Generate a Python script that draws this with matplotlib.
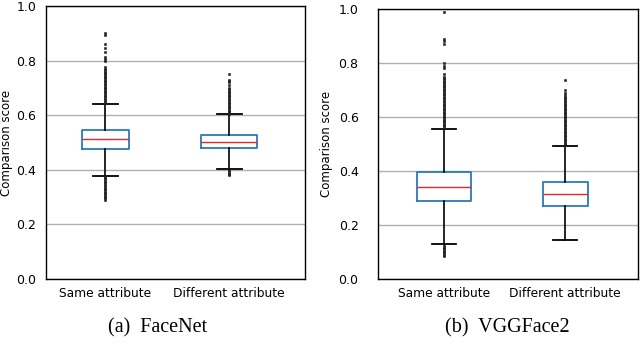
import matplotlib
matplotlib.use("Agg")
from matplotlib import pyplot as plt

labels = ["Same attribute", "Different attribute"]

# FaceNet box statistics
fn_med = [0.512, 0.503]
fn_q1 = [0.477, 0.479]
fn_q3 = [0.546, 0.527]
fn_lo = [0.378, 0.403]
fn_hi = [0.642, 0.603]
fn_fliers = [
    [0.645, 0.65, 0.655, 0.66, 0.665, 0.67, 0.675, 0.68, 0.685, 0.69, 0.695, 0.70,
     0.705, 0.71, 0.715, 0.72, 0.725, 0.73, 0.735, 0.74, 0.745, 0.75, 0.755, 0.76,
     0.765, 0.77, 0.775, 0.80, 0.805, 0.815, 0.83, 0.845, 0.86, 0.895, 0.90,
     0.375, 0.37, 0.365, 0.36, 0.355, 0.35, 0.345, 0.34, 0.335, 0.33, 0.325, 0.32,
     0.315, 0.31, 0.305, 0.30, 0.295, 0.29],
    [0.605, 0.61, 0.615, 0.62, 0.625, 0.63, 0.635, 0.64, 0.645, 0.65, 0.655, 0.66,
     0.665, 0.67, 0.675, 0.68, 0.685, 0.69, 0.695, 0.70, 0.71, 0.72, 0.725, 0.73,
     0.75, 0.40, 0.395, 0.39, 0.385, 0.38],
]

# VGGFace2 box statistics
vg_med = [0.340, 0.315]
vg_q1 = [0.289, 0.270]
vg_q3 = [0.396, 0.360]
vg_lo = [0.130, 0.144]
vg_hi = [0.557, 0.494]
vg_fliers = [
    [0.56, 0.565, 0.57, 0.575, 0.58, 0.585, 0.59, 0.595, 0.60, 0.605, 0.61, 0.615,
     0.62, 0.625, 0.63, 0.635, 0.64, 0.645, 0.65, 0.655, 0.66, 0.665, 0.67, 0.675,
     0.68, 0.685, 0.69, 0.695, 0.70, 0.705, 0.71, 0.715, 0.72, 0.725, 0.73, 0.735,
     0.74, 0.745, 0.75, 0.76, 0.78, 0.79, 0.80, 0.87, 0.88, 0.89, 0.99,
     0.125, 0.12, 0.115, 0.11, 0.105, 0.10, 0.095, 0.09, 0.085],
    [0.495, 0.50, 0.505, 0.51, 0.515, 0.52, 0.525, 0.53, 0.535, 0.54, 0.545, 0.55,
     0.555, 0.56, 0.565, 0.57, 0.575, 0.58, 0.585, 0.59, 0.595, 0.60, 0.605, 0.61,
     0.615, 0.62, 0.625, 0.63, 0.635, 0.64, 0.645, 0.65, 0.655, 0.66, 0.665, 0.67,
     0.675, 0.68, 0.69, 0.70, 0.737],
]


def make_stats(med, q1, q3, lo, hi, fliers):
    return [dict(med=med[i], q1=q1[i], q3=q3[i], whislo=lo[i], whishi=hi[i],
                 fliers=fliers[i], label=labels[i]) for i in range(len(labels))]


def draw(ax, stats, widths, xlim, ypad):
    ax.bxp(stats, positions=[1, 2], widths=widths, capwidths=0.2,
           boxprops=dict(color="#2a7ab9", linewidth=1.3),
           medianprops=dict(color="#e8262a", linewidth=1.0),
           whiskerprops=dict(color="black", linewidth=1.2),
           capprops=dict(color="black", linewidth=1.3),
           flierprops=dict(marker="s", markersize=2.0, markerfacecolor="#222222",
                           markeredgecolor="#222222", markeredgewidth=0.4))
    ax.set_xlim(*xlim)
    ax.set_ylim(0, 1.0)
    ax.set_yticks([0.0, 0.2, 0.4, 0.6, 0.8, 1.0])
    ax.set_yticklabels(["0.0", "0.2", "0.4", "0.6", "0.8", "1.0"])
    ax.yaxis.grid(True, color="#b0b0b0", linewidth=1.0)
    ax.set_axisbelow(True)
    ax.tick_params(axis="y", length=0, pad=ypad, labelsize=9)
    ax.tick_params(axis="x", length=0, pad=6, labelsize=8.8)
    ax.set_ylabel("Comparison score", fontsize=8.5)
    for s in ax.spines.values():
        s.set_linewidth(1.0)


fig = plt.figure(figsize=(6.4, 3.45), dpi=100)
ax1 = fig.add_axes([46 / 640, 66 / 345, 259 / 640, 273 / 345])
ax2 = fig.add_axes([378 / 640, 66 / 345, 260 / 640, 270 / 345])

draw(ax1, make_stats(fn_med, fn_q1, fn_q3, fn_lo, fn_hi, fn_fliers),
     [0.38, 0.45], (0.524, 2.61), 7)
draw(ax2, make_stats(vg_med, vg_q1, vg_q3, vg_lo, vg_hi, vg_fliers),
     [0.45, 0.37], (0.455, 2.60), 14)
ax1.yaxis.labelpad = 2
ax2.yaxis.labelpad = 4

fig.text(158 / 640, 1 - 328 / 345, "(a)  FaceNet", family="Liberation Serif",
         fontsize=14.5, ha="center", va="center")
fig.text(507 / 640, 1 - 328 / 345, "(b)  VGGFace2", family="Liberation Serif",
         fontsize=14.5, ha="center", va="center")

fig.savefig("out.png", dpi=100)
